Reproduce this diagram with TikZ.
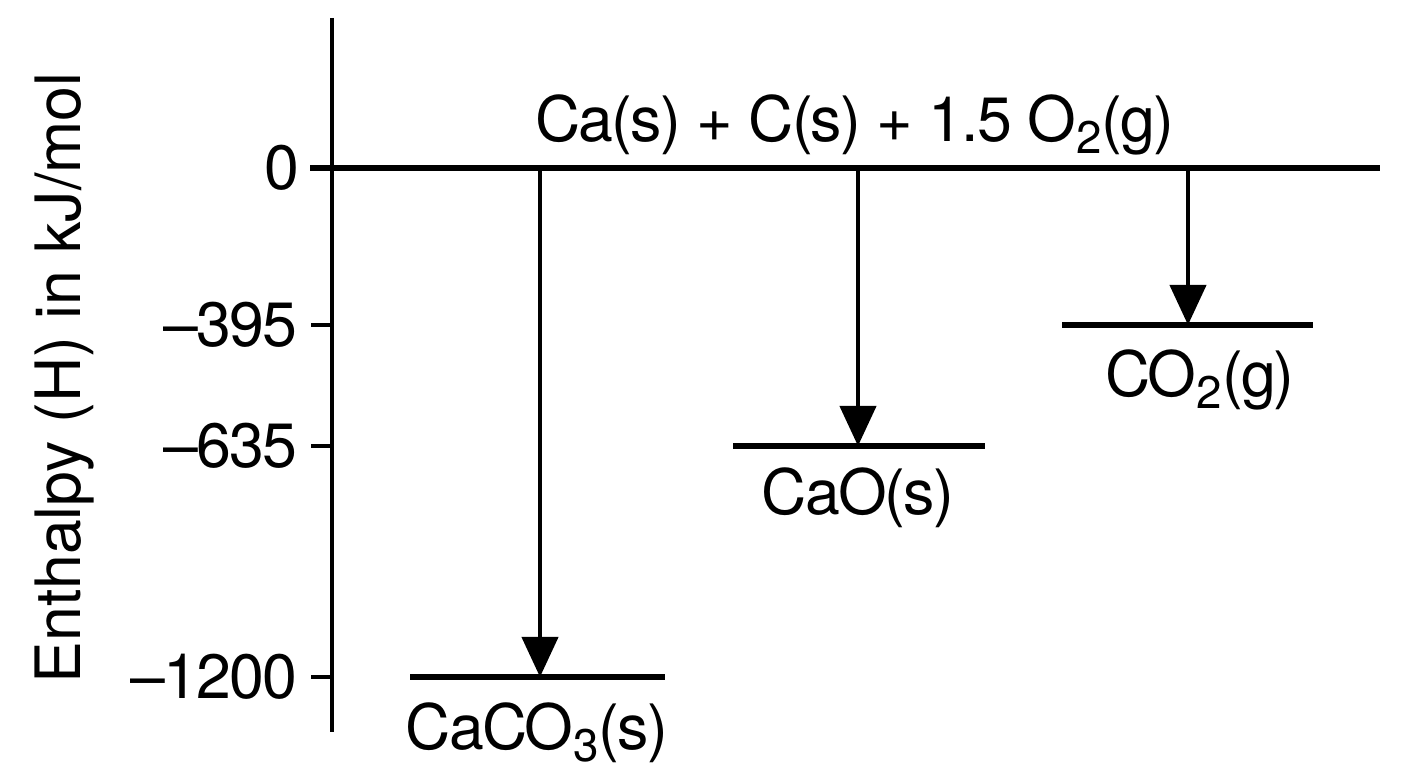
\documentclass[tikz,border=0pt]{standalone}
\usepackage{fontspec}
\setmainfont{TeX Gyre Heros}
\newfontfamily\tightfont[LetterSpace=-3]{TeX Gyre Heros}
\usetikzlibrary{arrows.meta}
\usetikzlibrary{positioning}
\tikzstyle{axis} = [draw, line width=1.4pt]
\tikzstyle{tick} = [draw, line width=1pt]
\tikzstyle{level} = [draw, line width=1.6pt]
\tikzstyle{line} = [draw, line width=1.2pt, -{Triangle[length=4mm,width=3.6mm]}]
\tikzstyle{lbl} = [font=\tightfont\fontsize{17.8}{21}\selectfont, inner sep=0pt]
\newcommand{\chemsub}[1]{\raisebox{-0.35ex}{\fontsize{13}{14}\selectfont #1}}

\begin{document}
\begin{tikzpicture}[x=0.01cm,y=-0.01cm]
    \useasboundingbox (0,0) rectangle (1408,768);
    % Axis and ticks
    \draw[axis] (332,18) -- (332,732);
    \draw[level] (310,168) -- (1380,168);
    \draw[tick] (311,325) -- (332,325);
    \draw[tick] (311,446) -- (332,446);
    \draw[tick] (311,677) -- (332,677);
    \node[lbl, anchor=east] (t0) at (300,168) {0};
    \node[lbl, anchor=east] (t395) at (298,325) {–395};
    \node[lbl, anchor=east] (t635) at (298,446) {–635};
    \node[lbl, anchor=east] (t1200) at (298,677) {–1200};
    \node[font=\fontsize{17.8}{21}\selectfont, inner sep=0pt, rotate=90] (ylabel) at (65,378) {Enthalpy (H) in kJ/mol};
    % Place nodes
    \node[lbl, anchor=base] (elements) at (855,142) {Ca(s) + C(s) + 1.5 O\chemsub{2}(g)};
    \coordinate (caco3start) at (540,168);
    \coordinate (caco3) at (540,677);
    \coordinate (caostart) at (858,168);
    \coordinate (cao) at (858,446);
    \coordinate (co2start) at (1188,168);
    \coordinate (co2) at (1188,325);
    \draw[level] (410,677) -- (665,677);
    \draw[level] (733,446) -- (985,446);
    \draw[level] (1062,325) -- (1313,325);
    \node[lbl, anchor=base] (caco3lbl) at (537,750) {CaCO\chemsub{3}(s)};
    \node[lbl, anchor=base] (caolbl) at (858,515) {CaO(s)};
    \node[lbl, anchor=base] (co2lbl) at (1200,397) {CO\chemsub{2}(g)};
    % Draw edges
    \path [line] (caco3start) -- (caco3);
    \path [line] (caostart) -- (cao);
    \path [line] (co2start) -- (co2);
\end{tikzpicture}
\end{document}
